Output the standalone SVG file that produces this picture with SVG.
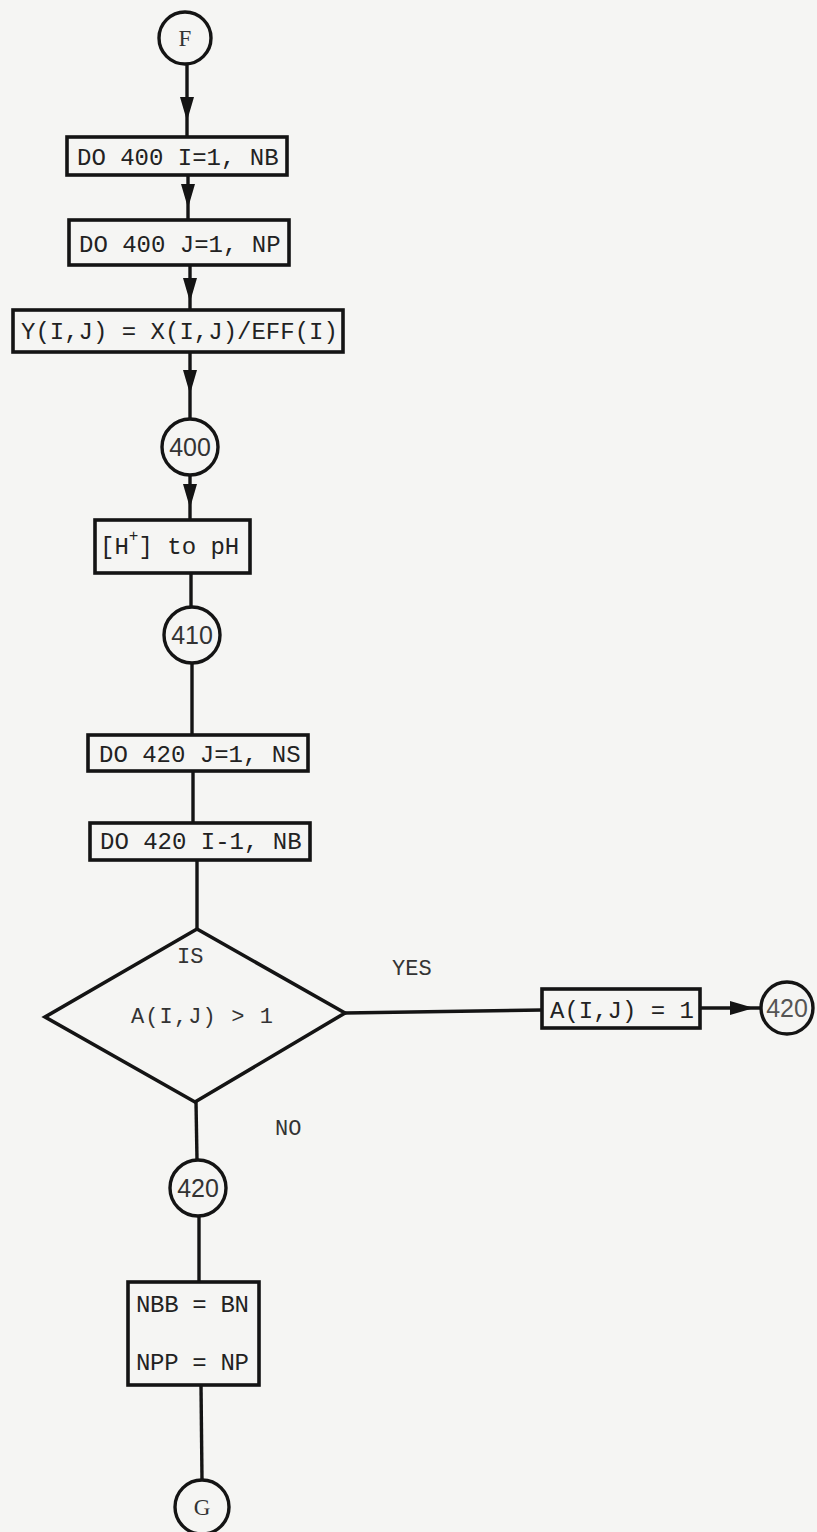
<svg xmlns="http://www.w3.org/2000/svg" width="817" height="1532" viewBox="0 0 817 1532">
<style>
.bx{fill:none;stroke:#141414;stroke-width:3.6}
.ci{fill:none;stroke:#141414;stroke-width:3.4}
.ln{fill:none;stroke:#141414;stroke-width:3.4}
.t{font-family:"Liberation Mono","DejaVu Sans Mono",monospace;font-size:24px;fill:#222}
.ts{font-family:"Liberation Mono","DejaVu Sans Mono",monospace;font-size:22px;fill:#333}
.tf{font-family:"Liberation Serif","DejaVu Serif",serif;font-size:23px;fill:#333;text-anchor:middle}
.tc{font-family:"Liberation Sans","DejaVu Sans",sans-serif;font-size:25px;fill:#333;text-anchor:middle}
</style>
<defs>
<marker id="ah" markerUnits="userSpaceOnUse" markerWidth="24" markerHeight="14" viewBox="0 0 24 14" refX="24" refY="7" orient="auto">
<path d="M0,0 L24,7 L0,14 z" fill="#141414"/>
</marker>
</defs>
<rect x="0" y="0" width="817" height="1532" fill="#f5f5f3"/>
<g id="connectors">
<path class="ln" d="M187,64 L187,121 L187,137" marker-mid="url(#ah)"/>
<path class="ln" d="M188,175 L188,208 L188,220" marker-mid="url(#ah)"/>
<path class="ln" d="M190,265 L190,302 L190,310" marker-mid="url(#ah)"/>
<path class="ln" d="M190,352 L190,394 L190,419" marker-mid="url(#ah)"/>
<path class="ln" d="M190,475 L190,508 L190,520" marker-mid="url(#ah)"/>
<path class="ln" d="M191,573 L191,607"/>
<path class="ln" d="M192,663 L192,735"/>
<path class="ln" d="M193,771 L193,823"/>
<path class="ln" d="M197,860 L197,929"/>
<path class="ln" d="M345,1013 L542,1010"/>
<path class="ln" d="M700,1008 L754,1008 L761,1008" marker-mid="url(#ah)"/>
<path class="ln" d="M196,1102 L197,1160"/>
<path class="ln" d="M199,1216 L199,1282"/>
<path class="ln" d="M201,1385 L202,1480"/>
</g>
<g id="nF"><circle class="ci" cx="185" cy="38" r="26"/><text class="tf" x="185" y="46">F</text></g>
<g id="n1"><rect class="bx" x="67" y="137" width="220" height="38"/><text class="t" x="77" y="165">DO 400 I=1, NB</text></g>
<g id="n2"><rect class="bx" x="69" y="220" width="220" height="45"/><text class="t" x="79" y="252">DO 400 J=1, NP</text></g>
<g id="n3"><rect class="bx" x="13" y="310" width="330" height="42"/><text class="t" x="21" y="339">Y(I,J) = X(I,J)/EFF(I)</text></g>
<g id="n400"><circle class="ci" cx="190" cy="447" r="28"/><text class="tc" x="190" y="456">400</text></g>
<g id="n4"><rect class="bx" x="95" y="520" width="155" height="53"/><text class="t" x="100" y="554">[H<tspan font-size="16" dy="-13">+</tspan><tspan dy="13">] to pH</tspan></text></g>
<g id="n410"><circle class="ci" cx="192" cy="635" r="28"/><text class="tc" x="192" y="644">410</text></g>
<g id="n5"><rect class="bx" x="88" y="735" width="220" height="36"/><text class="t" x="99" y="762">DO 420 J=1, NS</text></g>
<g id="n6"><rect class="bx" x="90" y="823" width="220" height="37"/><text class="t" x="100" y="849">DO 420 I-1, NB</text></g>
<g id="nD"><path class="bx" d="M197,929 L345,1013 L195,1102 L45,1017 z"/><text class="ts" x="177" y="963">IS</text><text class="ts" x="131" y="1023" textLength="142" lengthAdjust="spacing">A(I,J) &gt; 1</text></g>
<g id="lbl"><text class="ts" x="392" y="975">YES</text><text class="ts" x="275" y="1135">NO</text></g>
<g id="n7"><rect class="bx" x="542" y="989" width="158" height="39"/><text class="t" x="550" y="1018">A(I,J) = 1</text></g>
<g id="n420r"><circle class="ci" cx="787" cy="1008" r="26"/><text class="tc" x="787" y="1017" style="fill:#555">420</text></g>
<g id="n420"><circle class="ci" cx="198" cy="1188" r="28"/><text class="tc" x="198" y="1197">420</text></g>
<g id="n8"><rect class="bx" x="128" y="1282" width="131" height="103"/><text class="t" x="136" y="1312" textLength="113" lengthAdjust="spacing">NBB = BN</text><text class="t" x="136" y="1370" textLength="113" lengthAdjust="spacing">NPP = NP</text></g>
<g id="nG"><circle class="ci" cx="202" cy="1507" r="27"/><text class="tf" x="202" y="1515">G</text></g>
</svg>
